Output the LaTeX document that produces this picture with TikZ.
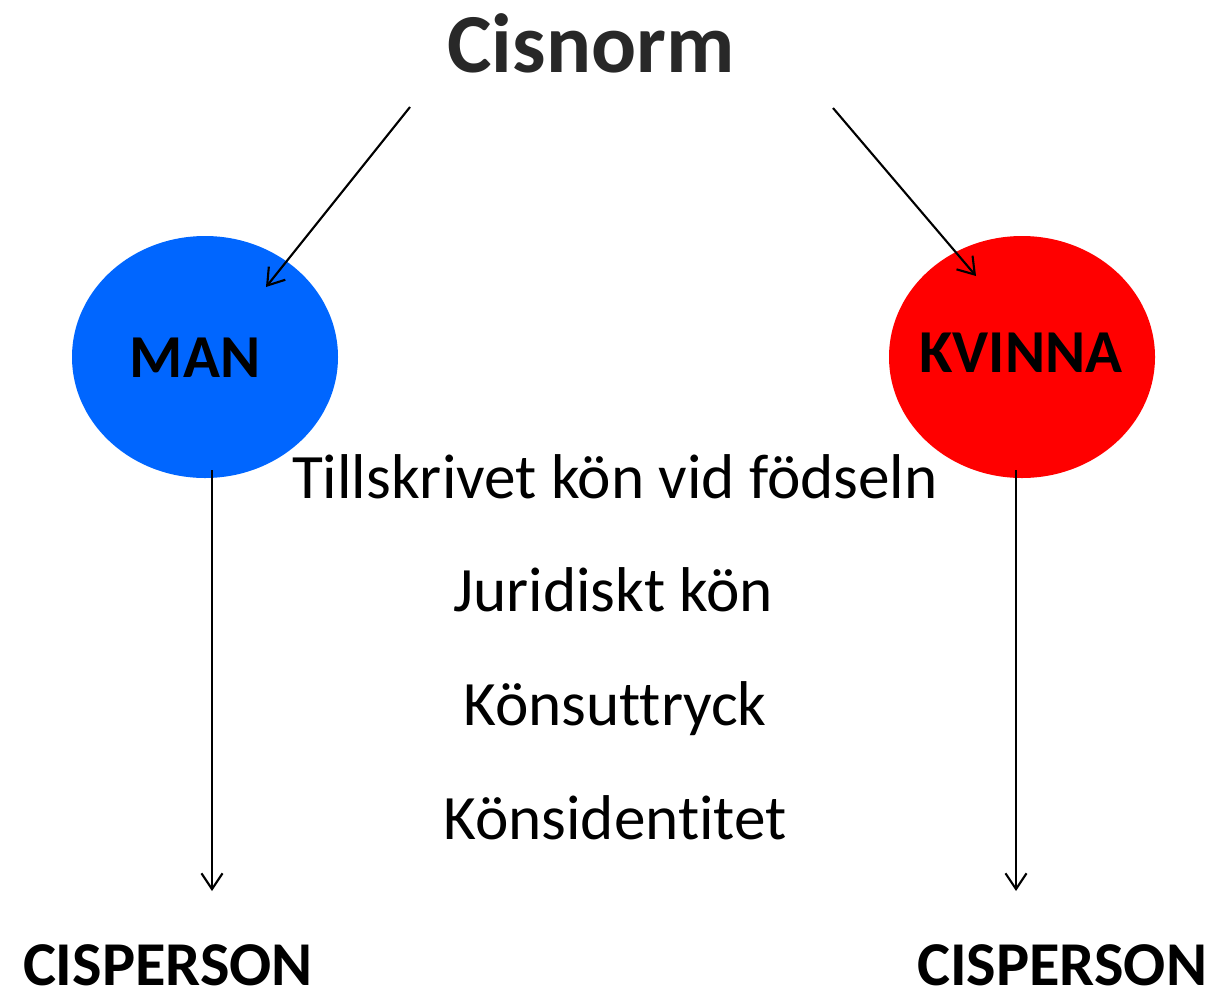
\documentclass[tikz,border=0pt]{standalone}
\usepackage{fontspec}
\setmainfont[Ligatures=NoCommon]{Carlito}
\usetikzlibrary{positioning}
\usetikzlibrary{arrows.meta,shapes.geometric}
\definecolor{manblue}{HTML}{0066FF}
\definecolor{kvinnared}{HTML}{FF0000}
\definecolor{titlegray}{HTML}{282828}

\begin{document}
\begin{tikzpicture}[x=0.02cm,y=-0.02cm, %one unit is one pixel of the slide
title/.style ={anchor=base, text=titlegray, font=\fontsize{47.8}{52}\selectfont\bfseries},
sex/.style ={anchor=base, font=\fontsize{34.7}{40}\selectfont\bfseries},
cis/.style ={anchor=base, inner sep=0pt, font=\fontsize{35.5}{40}\selectfont\bfseries},
line/.style ={anchor=base, font=\fontsize{36}{40}\selectfont},
arr/.style ={-{Straight Barb[length=9pt,width=12pt]}, line width=1.2pt}
]
\useasboundingbox (0,0) rectangle (1216,1001);
%ellipses
\fill[manblue] (205,357) ellipse [x radius=133, y radius=121];
\fill[kvinnared] (1022,357) ellipse [x radius=133, y radius=121];
%top title
\path (591,72) node[title](cisnorm) {Cisnorm}
(195,377) node[sex](man) {MAN}
(1021,372) node[sex](kvinna) {KVINNA}
(168,985) node[cis](cisl) {CISPERSON}
(1062,985) node[cis](cisr) {CISPERSON};
%the four lines in the middle
\path (615,498) node[line](l1) {Tillskrivet kön vid födseln}
(613,611) node[line](l2) {Juridiskt kön}
(615,725) node[line](l3) {Könsuttryck}
(615,839) node[line](l4) {Könsidentitet};
%cisnorm to man and kvinna
\draw (410,107) coordinate (1);
\draw (266,287) coordinate (2);
\draw[arr] (1) -- (2);
\draw (833,108) coordinate (3);
\draw (976,276) coordinate (4);
\draw[arr] (3) -- (4);
%down to cisperson
\draw (212,470) coordinate (5);
\draw (212,891) coordinate (6);
\draw[arr] (5) -- (6);
\draw (1016,470) coordinate (7);
\draw (1016,891) coordinate (8);
\draw[arr] (7) -- (8);
\end{tikzpicture}
\end{document}
